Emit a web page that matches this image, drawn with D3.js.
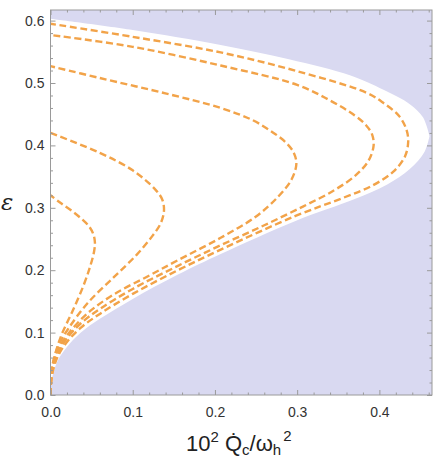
<!DOCTYPE html>
<html>
<head>
<meta charset="utf-8">
<script src="https://cdn.jsdelivr.net/npm/d3@7"></script>
<style>
  body { margin: 0; background: #fff; }
  svg { display: block; }
</style>
</head>
<body>
<div id="chart-area"></div>
<script>
// region boundary (white = allowed): [x, eps]
const boundaryLower = [[0, 0], [0.001, 0.02], [0.004, 0.038], [0.01, 0.058], [0.02, 0.077], [0.037, 0.1],
  [0.06, 0.122], [0.1, 0.154], [0.155, 0.193], [0.207, 0.226], [0.298, 0.279], [0.37, 0.314], [0.409, 0.337],
  [0.437, 0.362], [0.455, 0.39], [0.461, 0.415]]
const boundaryUpper = [[0.461, 0.415], [0.453, 0.445], [0.437, 0.466], [0.405, 0.489], [0.365, 0.512],
  [0.29, 0.538], [0.207, 0.561], [0.1, 0.585], [0, 0.603]]

// dashed contours, from the origin round to the eps axis
const curve1 = [[0, 0], [0.001, 0.035], [0.005, 0.062], [0.013, 0.095], [0.027, 0.135], [0.04, 0.175],
  [0.048, 0.205], [0.053, 0.23], [0.054, 0.245], [0.052, 0.258], [0.047, 0.27], [0.038, 0.282], [0.025, 0.296],
  [0.012, 0.308], [0, 0.32]]
const curve2 = [[0, 0], [0.001, 0.034], [0.004, 0.057], [0.01, 0.08], [0.021, 0.105], [0.045, 0.147],
  [0.078, 0.19], [0.105, 0.225], [0.124, 0.255], [0.134, 0.275], [0.138, 0.295], [0.136, 0.313], [0.127, 0.33],
  [0.1, 0.36], [0.06, 0.388], [0, 0.42]]
const curve3 = [[0, 0], [0.001, 0.03], [0.004, 0.053], [0.01, 0.075], [0.021, 0.097], [0.045, 0.131],
  [0.078, 0.162], [0.118, 0.19], [0.155, 0.216], [0.207, 0.252], [0.25, 0.286], [0.277, 0.318], [0.293, 0.345],
  [0.299, 0.37], [0.296, 0.388], [0.286, 0.405], [0.268, 0.423], [0.245, 0.441], [0.207, 0.46], [0.141, 0.483],
  [0.06, 0.508], [0, 0.527]]
const curve4 = [[0, 0], [0.001, 0.026], [0.004, 0.048], [0.01, 0.07], [0.02, 0.091], [0.037, 0.115],
  [0.06, 0.138], [0.1, 0.17], [0.155, 0.207], [0.207, 0.24], [0.26, 0.272], [0.307, 0.302], [0.345, 0.328],
  [0.372, 0.353], [0.387, 0.376], [0.393, 0.4], [0.391, 0.418], [0.384, 0.432], [0.37, 0.448], [0.34, 0.472],
  [0.3, 0.497], [0.207, 0.528], [0.1, 0.558], [0, 0.577]]
const curve5 = [[0, 0], [0.001, 0.024], [0.004, 0.044], [0.01, 0.065], [0.02, 0.085], [0.037, 0.108],
  [0.06, 0.13], [0.1, 0.162], [0.155, 0.2], [0.207, 0.233], [0.298, 0.287], [0.356, 0.316], [0.392, 0.336],
  [0.417, 0.358], [0.431, 0.382], [0.435, 0.405], [0.433, 0.425], [0.424, 0.447], [0.405, 0.468], [0.385, 0.484],
  [0.3, 0.519], [0.207, 0.549], [0.1, 0.574], [0, 0.595]]
const contours = [curve1, curve2, curve3, curve4, curve5]

const xTicks = [0, 0.1, 0.2, 0.3, 0.4]
const yTicks = [0, 0.1, 0.2, 0.3, 0.4, 0.5, 0.6]

const MARGIN = { left: 50.5, right: 9, top: 10, bottom: 62 }
const SVG_WIDTH = 441
const SVG_HEIGHT = 457
const G_WIDTH = SVG_WIDTH - MARGIN.left - MARGIN.right
const G_HEIGHT = SVG_HEIGHT - MARGIN.top - MARGIN.bottom

const svg = d3.select("#chart-area").append("svg")
  .attr("width", SVG_WIDTH)
  .attr("height", SVG_HEIGHT)
  .style("font-family", "'Liberation Sans', Arial, sans-serif")

const g = svg.append("g")
  .attr("transform", `translate(${MARGIN.left}, ${MARGIN.top})`)

const x = d3.scaleLinear().domain([0, 0.464]).range([0, G_WIDTH])
const y = d3.scaleLinear().domain([0, 0.617]).range([G_HEIGHT, 0])

g.append("clipPath").attr("id", "clip")
  .append("rect").attr("width", G_WIDTH).attr("height", G_HEIGHT)

const plot = g.append("g").attr("clip-path", "url(#clip)")

// forbidden region in lavender, allowed one cut out in white
plot.append("rect")
  .attr("width", G_WIDTH)
  .attr("height", G_HEIGHT)
  .attr("fill", "#d9d9f1")

const line = d3.line()
  .x(d => x(d[0]))
  .y(d => y(d[1]))
  .curve(d3.curveCatmullRom.alpha(0.5))

plot.append("path")
  .attr("d", line(boundaryLower) + "L" + line(boundaryUpper).slice(1) + "Z")
  .attr("fill", "#fff")

plot.selectAll(".contour")
  .data(contours)
  .enter().append("path")
  .attr("class", "contour")
  .attr("d", line)
  .attr("fill", "none")
  .attr("stroke", "#f2a349")
  .attr("stroke-width", 2.4)
  .attr("stroke-dasharray", "7,3.6")

// axes: ticks point inward, minor ticks every 0.02
const minorX = d3.range(0, 0.465, 0.02).filter(v => Math.abs(v * 10 - Math.round(v * 10)) > 1e-6)
const minorY = d3.range(0, 0.62, 0.02).filter(v => Math.abs(v * 10 - Math.round(v * 10)) > 1e-6)

function styleAxis(sel) {
  sel.select(".domain").remove()
  sel.selectAll("line").attr("stroke", "#9a9a9a")
  sel.selectAll("text").attr("fill", "#333").attr("font-size", "14px")
}

g.append("g").attr("transform", `translate(0, ${G_HEIGHT})`)
  .call(d3.axisBottom(x).tickValues(xTicks).tickSize(-5).tickPadding(12).tickFormat(d3.format(".1f")))
  .call(styleAxis)
g.append("g").attr("transform", `translate(0, ${G_HEIGHT})`)
  .call(d3.axisBottom(x).tickValues(minorX).tickSize(-2.5).tickFormat(""))
  .call(styleAxis)
g.append("g")
  .call(d3.axisTop(x).tickValues(xTicks).tickSize(-5).tickFormat(""))
  .call(styleAxis)
g.append("g")
  .call(d3.axisTop(x).tickValues(minorX).tickSize(-2.5).tickFormat(""))
  .call(styleAxis)

g.append("g")
  .call(d3.axisLeft(y).tickValues(yTicks).tickSize(-5).tickPadding(6).tickFormat(d3.format(".1f")))
  .call(styleAxis)
g.append("g")
  .call(d3.axisLeft(y).tickValues(minorY).tickSize(-2.5).tickFormat(""))
  .call(styleAxis)
g.append("g").attr("transform", `translate(${G_WIDTH}, 0)`)
  .call(d3.axisRight(y).tickValues(yTicks).tickSize(-5).tickFormat(""))
  .call(styleAxis)
g.append("g").attr("transform", `translate(${G_WIDTH}, 0)`)
  .call(d3.axisRight(y).tickValues(minorY).tickSize(-2.5).tickFormat(""))
  .call(styleAxis)

g.append("rect")
  .attr("width", G_WIDTH)
  .attr("height", G_HEIGHT)
  .attr("fill", "none")
  .attr("stroke", "#9a9a9a")
  .attr("stroke-width", 1)

// axis labels
svg.append("text")
  .attr("x", 1)
  .attr("y", 210)
  .attr("font-size", "23px")
  .attr("font-style", "italic")
  .attr("font-family", "'DejaVu Serif', serif")
  .attr("fill", "#222")
  .text("ε")

const xl = svg.append("text")
  .attr("x", 186)
  .attr("y", 451)
  .attr("font-size", "22px")
  .attr("fill", "#222")
xl.append("tspan").text("10")
xl.append("tspan").attr("font-size", "15px").attr("dy", -9).text("2")
xl.append("tspan").attr("dy", 9).text(" Q\u0307")
xl.append("tspan").attr("font-size", "15px").attr("dy", 4).text("c")
xl.append("tspan").attr("dy", -4).text("/ω")
xl.append("tspan").attr("font-size", "15px").attr("dy", 4).text("h")
xl.append("tspan").attr("font-size", "15px").attr("dy", -14).attr("dx", 2).text("2")
</script>
</body>
</html>
